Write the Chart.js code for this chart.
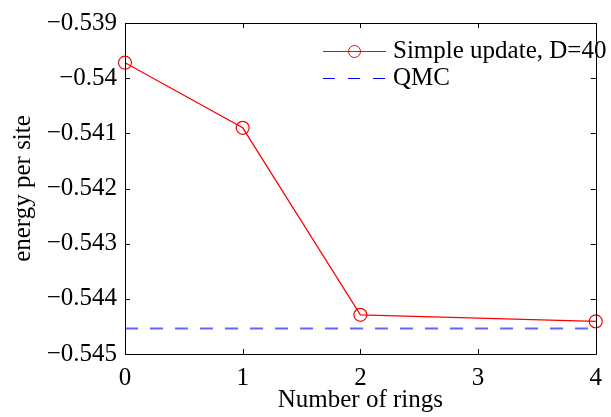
<!DOCTYPE html>
<html>
<head>
<meta charset="utf-8">
<script src="https://cdn.jsdelivr.net/npm/chart.js@4/dist/chart.umd.min.js"></script>
<style>
html,body{margin:0;padding:0;background:#fff;}
#wrap{width:611px;height:417px;}
</style>
</head>
<body>
<div id="wrap"><canvas id="c" width="611" height="417"></canvas></div>
<script>
// ---- data ----
const rings = [0, 1, 2, 4];
const simpleUpdate = [-0.53972, -0.54090, -0.54429, -0.54441];
const qmcEnergy = -0.54454;
const qmcRange = [0, 4];
const xTickLabels = ['0', '1', '2', '3', '4'];
const yTickLabels = ['\u22120.545', '\u22120.544', '\u22120.543', '\u22120.542', '\u22120.541', '\u22120.54', '\u22120.539'];
const seriesNames = ['Simple update, D=40', 'QMC'];
const xTitle = 'Number of rings';
const yTitle = 'energy per site';

const FONT = "'Liberation Serif', 'Times New Roman', serif";
Chart.defaults.font.family = FONT;

const framePlugin = {
  id: 'frame',
  afterDraw(chart) {
    const {ctx, chartArea: a, scales: {x, y}} = chart;
    ctx.save();
    ctx.strokeStyle = '#000';
    ctx.lineWidth = 1;
    ctx.beginPath();
    ctx.rect(Math.round(a.left) + 0.5, Math.round(a.top) + 0.5, Math.round(a.right - a.left), Math.round(a.bottom - a.top));
    ctx.stroke();
    const tl = 5;
    ctx.beginPath();
    x.ticks.forEach(t => {
      const px = Math.round(x.getPixelForValue(t.value)) + 0.5;
      ctx.moveTo(px, a.bottom); ctx.lineTo(px, a.bottom - tl);
      ctx.moveTo(px, a.top); ctx.lineTo(px, a.top + tl);
    });
    y.ticks.forEach(t => {
      const py = Math.round(y.getPixelForValue(t.value)) + 0.5;
      ctx.moveTo(a.left, py); ctx.lineTo(a.left + tl, py);
      ctx.moveTo(a.right, py); ctx.lineTo(a.right - tl, py);
    });
    ctx.stroke();

    // legend
    const lx0 = a.left + 198, lx1 = a.left + 261, tx = a.left + 268;
    const r1 = a.top + 28, r2 = a.top + 55;
    ctx.strokeStyle = '#ff0000';
    ctx.lineWidth = 1;
    ctx.beginPath(); ctx.moveTo(lx0, r1 + 0.5); ctx.lineTo(lx1, r1 + 0.5); ctx.stroke();
    ctx.beginPath(); ctx.arc((lx0 + lx1) / 2, r1 + 0.5, 6, 0, Math.PI * 2); ctx.stroke();
    ctx.strokeStyle = '#0000ff';
    ctx.setLineDash([12, 13]);
    ctx.beginPath(); ctx.moveTo(lx0, r2 + 0.5); ctx.lineTo(lx1 + 2, r2 + 0.5); ctx.stroke();
    ctx.setLineDash([]);
    ctx.fillStyle = '#000';
    ctx.font = '25px ' + FONT;
    ctx.textBaseline = 'middle';
    ctx.textAlign = 'left';
    ctx.fillText(seriesNames[0], tx, r1);
    ctx.fillText(seriesNames[1], tx, r2);
    ctx.restore();
  }
};

new Chart(document.getElementById('c'), {
  type: 'line',
  data: {
    datasets: [
      {
        label: seriesNames[0],
        data: rings.map((r, i) => ({x: r, y: simpleUpdate[i]})),
        borderColor: '#ff0000',
        backgroundColor: 'rgba(0,0,0,0)',
        borderWidth: 1.2,
        pointRadius: 6.5,
        pointBorderWidth: 1.2,
        pointBorderColor: '#ff0000',
        pointBackgroundColor: 'rgba(0,0,0,0)',
        tension: 0,
        clip: false
      },
      {
        label: seriesNames[1],
        data: qmcRange.map(r => ({x: r, y: qmcEnergy})),
        borderColor: '#6464ff',
        borderWidth: 2,
        borderDash: [13, 12],
        pointRadius: 0,
        tension: 0,
        clip: false
      }
    ]
  },
  options: {
    responsive: false,
    devicePixelRatio: 1,
    animation: false,
    layout: {padding: {top: 16, right: 12, left: 0, bottom: 0}},
    plugins: {legend: {display: false}, tooltip: {enabled: false}},
    scales: {
      x: {
        type: 'linear',
        min: 0, max: 4,
        grid: {display: false, drawTicks: false},
        border: {display: false},
        ticks: {
          stepSize: 1,
          padding: 9,
          color: '#000',
          font: {family: FONT, size: 25},
          maxRotation: 0,
          callback: (v, i) => xTickLabels[i]
        },
        title: {display: true, text: xTitle, color: '#000', font: {family: FONT, size: 25}, padding: {top: 0, bottom: 2}},
        afterFit(s) { s.height = 63; }
      },
      y: {
        type: 'linear',
        min: -0.545, max: -0.539,
        grid: {display: false, drawTicks: false},
        border: {display: false},
        ticks: {
          stepSize: 0.001,
          padding: 8,
          color: '#000',
          font: {family: FONT, size: 25},
          callback: (v, i) => yTickLabels[i]
        },
        title: {display: true, text: yTitle, color: '#000', font: {family: FONT, size: 25}, padding: {top: 8, bottom: 0}},
        afterFit(s) { s.width = 125; }
      }
    }
  },
  plugins: [framePlugin]
});
</script>
</body>
</html>
